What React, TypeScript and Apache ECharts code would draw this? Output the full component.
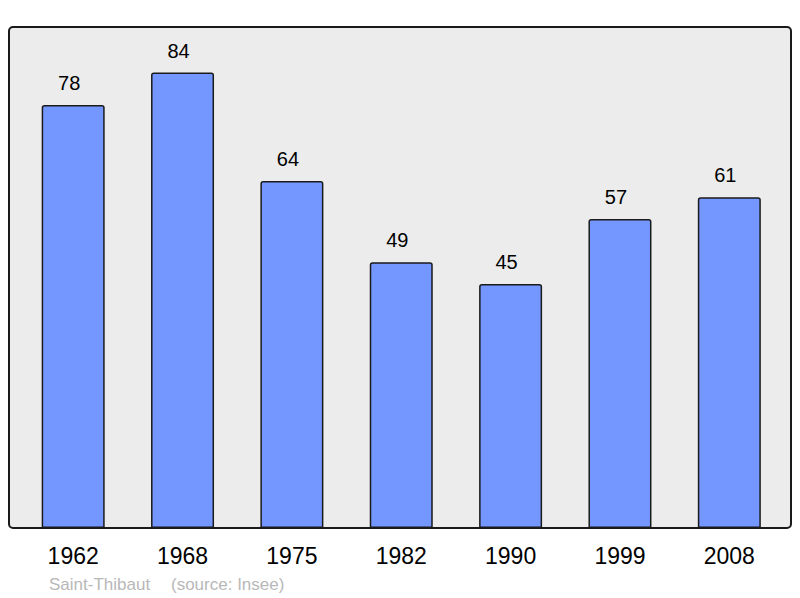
import React, { useEffect, useRef } from "react";
import * as echarts from "echarts";

const years = ["1962", "1968", "1975", "1982", "1990", "1999", "2008"];
const population = [78, 84, 64, 49, 45, 57, 61];
const placeName = "Saint-Thibaut";
const sourceText = "(source: Insee)";

export default function App() {
  const ref = useRef<HTMLDivElement>(null);
  useEffect(() => {
    if (!ref.current) return;
    const chart = echarts.init(ref.current, null, { renderer: "svg" });
    chart.setOption({
      animation: false,
      textStyle: { fontFamily: "Liberation Sans, Arial, sans-serif" },
      grid: { left: 18.5, right: 16, top: 27, height: 501, containLabel: false },
      graphic: [
        {
          type: "rect",
          z: 0,
          shape: { x: 9, y: 27, width: 782, height: 501, r: 4 },
          style: { fill: "#ececec", stroke: "#1a1a1a", lineWidth: 2 },
        },
        {
          type: "text",
          z: 10,
          left: 49,
          top: 576,
          style: { text: placeName, fill: "#b8b8b8", fontSize: 17, fontFamily: "Liberation Sans, Arial, sans-serif" },
        },
        {
          type: "text",
          z: 10,
          left: 171,
          top: 576,
          style: { text: sourceText, fill: "#b8b8b8", fontSize: 17, fontFamily: "Liberation Sans, Arial, sans-serif" },
        },
      ],
      xAxis: {
        type: "category",
        data: years,
        boundaryGap: true,
        axisLine: { show: false },
        axisTick: { show: false },
        axisLabel: { color: "#000", fontSize: 23, margin: 16 },
      },
      yAxis: {
        type: "value",
        min: 0,
        max: 92.4,
        show: false,
        splitLine: { show: false },
      },
      series: [
        {
          type: "bar",
          data: population,
          barWidth: 63,
          z: 5,
          itemStyle: {
            color: "#7396ff",
            borderColor: "#1a1a1a",
            borderWidth: 1.5,
            borderRadius: [2, 2, 0, 0],
          },
          label: {
            show: true,
            position: "top",
            distance: 12,
            offset: [-4, 0],
            color: "#000",
            fontSize: 20,
          },
        },
      ],
    });
    return () => chart.dispose();
  }, []);
  return <div ref={ref} style={{ width: 800, height: 598, position: "absolute", left: 0, top: 0 }} />;
}
